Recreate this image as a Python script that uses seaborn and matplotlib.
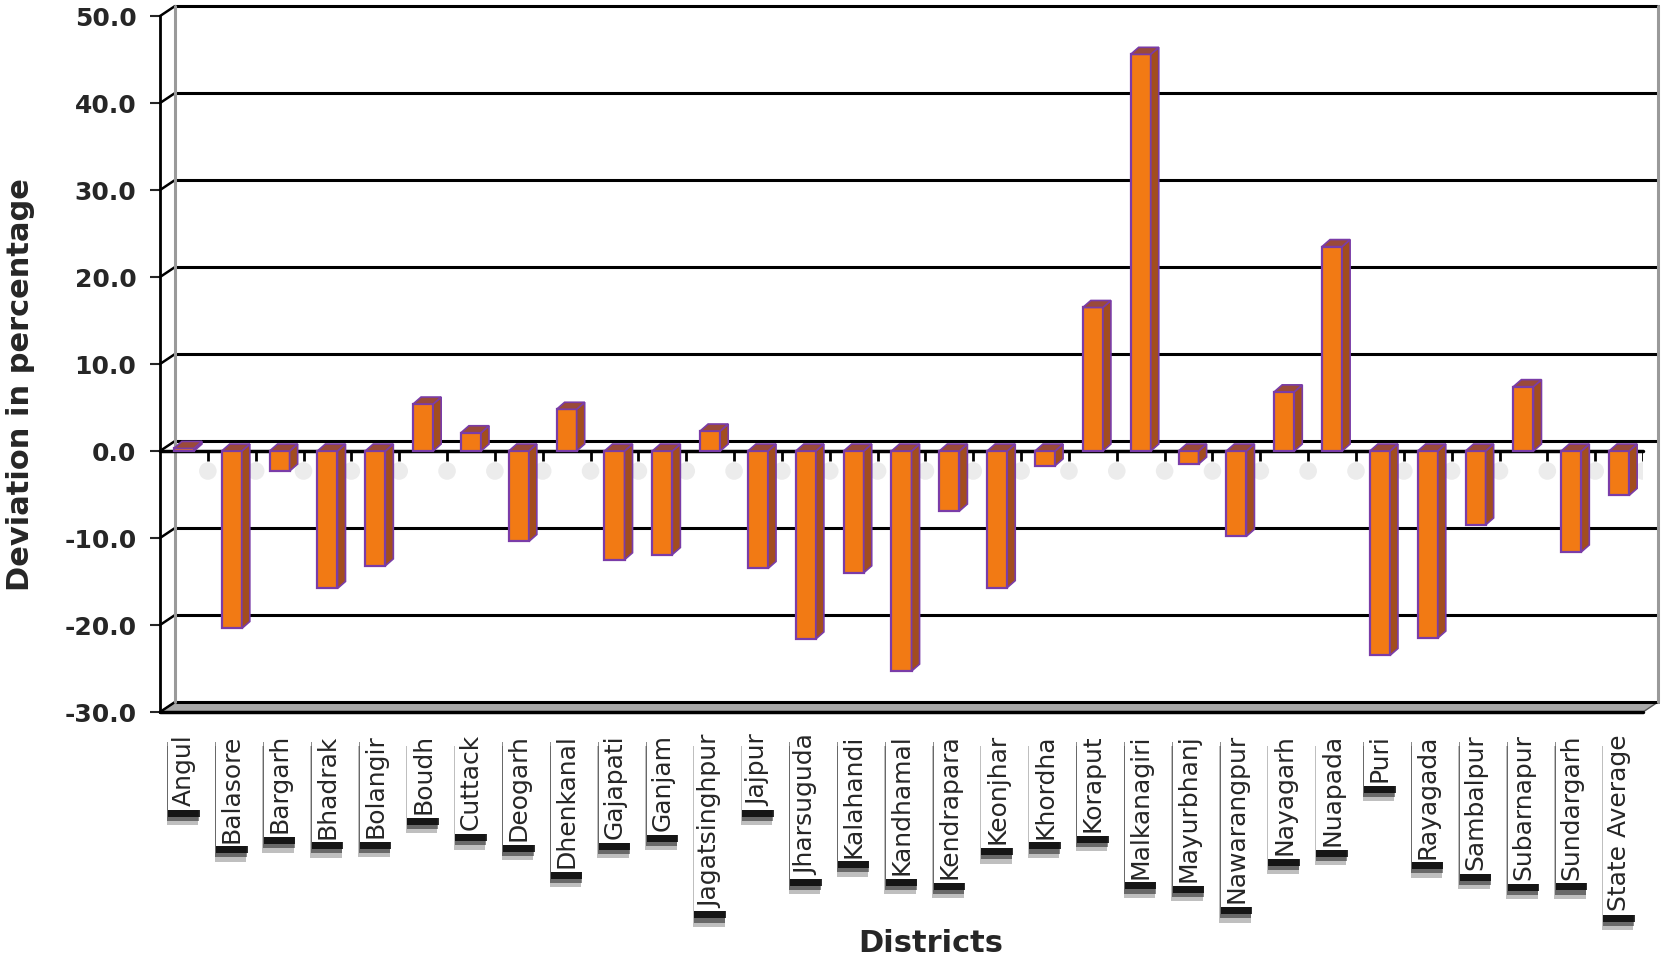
import numpy as np
import pandas as pd
import matplotlib.pyplot as plt
import seaborn as sns
from matplotlib.patches import Polygon
import matplotlib.patheffects as pe

# values
districts = ['Angul', 'Balasore', 'Bargarh', 'Bhadrak', 'Bolangir', 'Boudh', 'Cuttack',
             'Deogarh', 'Dhenkanal', 'Gajapati', 'Ganjam', 'Jagatsinghpur', 'Jajpur',
             'Jharsuguda', 'Kalahandi', 'Kandhamal', 'Kendrapara', 'Keonjhar', 'Khordha',
             'Koraput', 'Malkanagiri', 'Mayurbhanj', 'Nawarangpur', 'Nayagarh', 'Nuapada',
             'Puri', 'Rayagada', 'Sambalpur', 'Subarnapur', 'Sundargarh', 'State Average']
deviation = [0.3, -20.4, -2.3, -15.8, -13.2, 5.4, 2.1, -10.4, 4.8, -12.5, -11.9, 2.3, -13.5,
             -21.6, -14.0, -25.3, -6.9, -15.7, -1.7, 16.5, 45.6, -1.5, -9.8, 6.8, 23.5,
             -23.5, -21.5, -8.5, 7.4, -11.6, -5.1]
y_ticks = [-30, -20, -10, 0, 10, 20, 30, 40, 50]

front_col = '#F27A14'
side_col = '#A24D1F'
top_col = '#9A4A3A'
edge_col = '#7A3CA8'

sns.set_style('white')
plt.rcParams['font.family'] = ['DejaVu Sans']

df = pd.DataFrame({'District': districts, 'Deviation': deviation})

fig = plt.figure(figsize=(16.65, 9.61), dpi=100)
ax = fig.add_axes([0.0961, 0.2591, 0.8907, 0.7242])

sns.barplot(data=df, x='District', y='Deviation', color=front_col, width=0.42,
            edgecolor=edge_col, linewidth=1.6, saturation=1, ax=ax)
bars = list(ax.patches)

n = len(districts)
ax.set_xlim(-0.5, n - 0.5)
ax.set_ylim(-30, 50)


def px(dx, dy):
    # pixel offset -> data offset
    inv = ax.transData.inverted()
    a = inv.transform((0, 0))
    b = inv.transform((dx, dy))
    return b[0] - a[0], b[1] - a[1]


wdx, wdy = px(15, 10)   # depth of the back wall
bdx, bdy = px(8, 7)     # depth of each bar
x0, x1 = -0.5, n - 0.5

# floor slab
floor = Polygon([(x0, -30), (x1, -30), (x1 + wdx, -30 + wdy), (x0 + wdx, -30 + wdy)],
                closed=True, fc='#A9A9A9', ec='#555555', lw=1, zorder=1, clip_on=False)
ax.add_patch(floor)
ax.plot([x0, x1], [-30, -30], color='black', lw=2.5, zorder=2, clip_on=False)

# back wall grid lines and connectors
for yv in y_ticks:
    ax.plot([x0 + wdx, x1 + wdx], [yv + wdy, yv + wdy], color='black', lw=2.2,
            zorder=2, clip_on=False)
    ax.plot([x0, x0 + wdx], [yv, yv + wdy], color='black', lw=1.8, zorder=2, clip_on=False)
ax.plot([x0 + wdx, x0 + wdx], [-30 + wdy, 50 + wdy], color='#9A9A9A', lw=2.2, zorder=2,
        clip_on=False)
ax.plot([x1 + wdx, x1 + wdx], [-30 + wdy, 50 + wdy], color='#9A9A9A', lw=2.2, zorder=2,
        clip_on=False)

# front zero line with category ticks and soft shadow dots
ax.plot([x0, x1], [0, 0], color='black', lw=2.5, zorder=3, clip_on=False)
bounds = np.arange(1, n + 1) - 0.5
tick_len = px(0, 10)[1]
ax.vlines(bounds, -tick_len, 0, color='black', lw=2, zorder=3)
ax.scatter(bounds, np.full(n, -2 * tick_len), s=160, color='#E4E4E4', alpha=0.7,
           edgecolor='none', zorder=2)

# 3d faces on every bar
for p in bars:
    bx, bw = p.get_x(), p.get_width()
    by, bh = p.get_y(), p.get_height()
    lo, hi = min(by, by + bh), max(by, by + bh)
    p.set_zorder(5)
    side = Polygon([(bx + bw, lo), (bx + bw + bdx, lo + bdy), (bx + bw + bdx, hi + bdy),
                    (bx + bw, hi)], closed=True, fc=side_col, ec=edge_col, lw=1.2, zorder=5)
    top = Polygon([(bx, hi), (bx + bdx, hi + bdy), (bx + bw + bdx, hi + bdy), (bx + bw, hi)],
                  closed=True, fc=top_col, ec=edge_col, lw=1.2, zorder=5)
    ax.add_patch(side)
    ax.add_patch(top)

for s in ['top', 'right', 'bottom']:
    ax.spines[s].set_visible(False)
ax.spines['left'].set_color('black')
ax.spines['left'].set_linewidth(2)
ax.spines['left'].set_zorder(3)

ax.set_yticks(y_ticks)
ax.set_yticklabels([f'{v:.1f}' for v in y_ticks], fontsize=18, fontweight='bold')
ax.tick_params(axis='y', direction='out', length=7, width=1.5, pad=10, left=True)
ax.tick_params(axis='x', length=0, pad=16, labelrotation=90, labelsize=18)

# white label boxes with a soft drop shadow underneath
for lbl in ax.get_xticklabels():
    lbl.set_bbox(dict(boxstyle='square,pad=0.15', fc='white', ec='none'))
    lbl.get_bbox_patch().set_path_effects([
        pe.SimplePatchShadow(offset=(-1, -11), shadow_rgbFace='black', alpha=0.25),
        pe.SimplePatchShadow(offset=(-0.5, -8), shadow_rgbFace='black', alpha=0.45),
        pe.SimplePatchShadow(offset=(0, -5), shadow_rgbFace='black', alpha=0.8),
        pe.Normal()])

ax.set_xlabel('Districts', fontsize=22, fontweight='bold')
ax.set_ylabel('Deviation in percentage', fontsize=22, fontweight='bold')
ax.xaxis.set_label_coords(0.52, -0.312)
ax.yaxis.set_label_coords(-0.084, 0.471)

fig.savefig('out.png', dpi=100)
